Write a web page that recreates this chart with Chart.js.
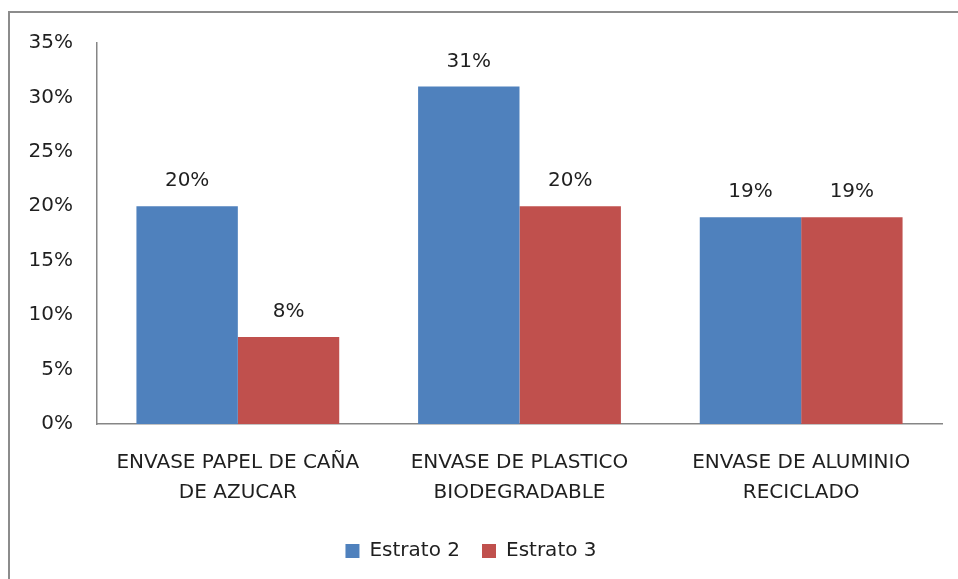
<!DOCTYPE html>
<html>
<head>
<meta charset="utf-8">
<script src="https://cdn.jsdelivr.net/npm/chart.js@4.4.1/dist/chart.umd.min.js"></script>
<style>
    html, body { margin: 0; padding: 0; background: #fff; }
    .frame { position: absolute; left: 8px; top: 11px; width: 960px; height: 580px; border-left: 2px solid #8c8c8c; border-top: 2px solid #8c8c8c; }
    #wrap { position: absolute; left: 0; top: 0; width: 958px; height: 579px; }
</style>
</head>
<body>
<div class="frame"></div>
<div id="wrap"><canvas id="barChart" width="958" height="579"></canvas></div>
<script>
const categories = [
    ['ENVASE PAPEL DE CAÑA', 'DE AZUCAR'],
    ['ENVASE DE PLASTICO', 'BIODEGRADABLE'],
    ['ENVASE DE ALUMINIO', 'RECICLADO']
];
const estrato2 = [20, 31, 19];
const estrato3 = [8, 20, 19];
const seriesNames = ['Estrato 2', 'Estrato 3'];

const FONT = '"DejaVu Sans", sans-serif';
const FONT_SIZE = 20;
const TEXT = '#1f1f1f';

// writes the % value above each bar
const valueLabels = {
    id: 'valueLabels',
    afterDatasetsDraw(chart) {
        const ctx = chart.ctx;
        ctx.save();
        ctx.font = FONT_SIZE + 'px ' + FONT;
        ctx.fillStyle = TEXT;
        ctx.textAlign = 'center';
        ctx.textBaseline = 'middle';
        chart.data.datasets.forEach((ds, i) => {
            chart.getDatasetMeta(i).data.forEach((bar, j) => {
                ctx.fillText(ds.data[j] + '%', bar.x, bar.y - 25);
            });
        });
        ctx.restore();
    }
};

const ctx = document.getElementById('barChart').getContext('2d');
new Chart(ctx, {
    type: 'bar',
    data: {
        labels: categories,
        datasets: [
            { label: seriesNames[0], data: estrato2, backgroundColor: '#4F81BD' },
            { label: seriesNames[1], data: estrato3, backgroundColor: '#C0504D' }
        ]
    },
    options: {
        responsive: false,
        animation: false,
        layout: { padding: { top: 43, right: 16, left: 0, bottom: 8 } },
        datasets: { bar: { barPercentage: 1, categoryPercentage: 0.72 } },
        scales: {
            x: {
                grid: { display: false, drawTicks: false },
                border: { display: true, color: '#868686', width: 1.5 },
                ticks: { color: TEXT, font: { family: FONT, size: FONT_SIZE, lineHeight: 1.5 }, padding: 24, maxRotation: 0, autoSkip: false },
                afterFit: (s) => { s.height = 95; }
            },
            y: {
                min: 0, max: 35,
                grid: { display: false, drawTicks: false },
                border: { display: true, color: '#868686', width: 1.5 },
                ticks: { stepSize: 5, color: TEXT, font: { family: FONT, size: FONT_SIZE }, padding: 24, callback: (v) => v + '%' },
                afterFit: (s) => { s.width = 97; }
            }
        },
        plugins: {
            legend: {
                position: 'bottom',
                labels: { color: TEXT, font: { family: FONT, size: FONT_SIZE }, boxWidth: 14, boxHeight: 14, padding: 22 }
            },
            tooltip: { enabled: false }
        }
    },
    plugins: [valueLabels]
});
</script>
</body>
</html>
